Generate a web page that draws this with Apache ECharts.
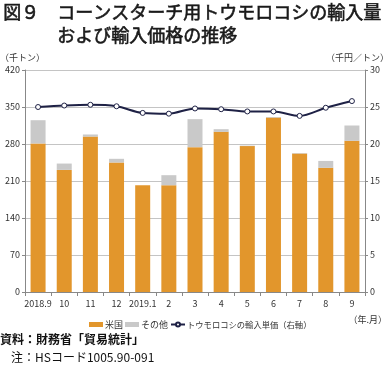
<!DOCTYPE html>
<html><head><meta charset="utf-8">
<script src="https://cdn.jsdelivr.net/npm/echarts@6/dist/echarts.min.js"></script>
<style>html,body{margin:0;padding:0;background:#fff}#c{width:389px;height:368px}</style>
</head><body><div id="c"></div>
<script>
const categories = ['2018.9','10','11','12','2019.1','2','3','4','5','6','7','8','9'];
const usVolume = [281,231,294,245,202,202,274,303,276,330,262,235,286];
const otherVolume = [44,12,4,7,0,19,53,5,1,1,1,13,29];
const unitPrice = [25.0,25.2,25.3,25.1,24.2,24.1,24.8,24.7,24.4,24.4,23.8,24.9,25.8];
const leftTicks = [0,70,140,210,280,350,420];
const rightTicks = [0,5,10,15,20,25,30];
const F = '"Noto Sans CJK JP", "Noto Sans", sans-serif';
const T = {fill:'#1a1a1a',stroke:'#1a1a1a',lineWidth:0.6};
const chart = echarts.init(document.getElementById('c'));
chart.setOption({
  animation:false,
  textStyle:{fontFamily:F},
  graphic:[
    {type:'text',left:3,top:3,style:Object.assign({text:'図９',font:'18px '+F},T)},
    {type:'text',left:57,top:3,style:Object.assign({text:'コーンスターチ用トウモロコシの輸入量',font:'18px '+F},T)},
    {type:'text',left:57,top:26,style:Object.assign({text:'および輸入価格の推移',font:'18px '+F},T)},
    {type:'text',left:0,top:53,style:{text:'（千トン）',font:'9px '+F,fill:'#333'}},
    {type:'text',right:0,top:53,style:{text:'（千円／トン）',font:'9px '+F,fill:'#333'}},
    {type:'text',right:2,top:315,style:{text:'（年.月）',font:'9px '+F,fill:'#333'}},
    {type:'text',left:0,top:333,style:{text:'資料：財務省「貿易統計」',font:'bold 12px '+F,fill:'#111'}},
    {type:'text',left:11,top:351,style:{text:'注：HSコード1005.90-091',font:'12px '+F,fill:'#111'}}
  ],
  legend:{
    top:315,left:84,itemWidth:14,itemHeight:5,itemGap:2,
    textStyle:{fontSize:9,color:'#333',fontFamily:F,padding:[0,0,0,-3]},
    data:[{name:'米国',icon:'rect'},{name:'その他',icon:'rect'},
          {name:'トウモロコシの輸入単価（右軸）',textStyle:{fontSize:8.3}}]
  },
  grid:{left:25,right:24,top:70,bottom:76},
  xAxis:{
    type:'category',data:categories,
    axisLine:{lineStyle:{color:'#888'}},
    axisTick:{show:true,alignWithLabel:false,length:4,lineStyle:{color:'#888'}},
    axisLabel:{fontSize:9,color:'#333',margin:7,interval:0}
  },
  yAxis:[
    {type:'value',min:0,max:420,interval:70,
     axisLine:{show:true,lineStyle:{color:'#888'}},
     axisTick:{show:true,length:3,lineStyle:{color:'#888'}},
     axisLabel:{fontSize:9,color:'#333',margin:5},
     splitLine:{lineStyle:{color:'#c4c4c4',width:1}}},
    {type:'value',min:0,max:30,interval:5,position:'right',
     axisLine:{show:true,lineStyle:{color:'#888'}},
     axisTick:{show:true,length:3,lineStyle:{color:'#888'}},
     axisLabel:{fontSize:9,color:'#333',margin:5},
     splitLine:{show:false}}
  ],
  series:[
    {name:'米国',type:'bar',stack:'v',data:usVolume,barWidth:15,itemStyle:{color:'#E2962C'}},
    {name:'その他',type:'bar',stack:'v',data:otherVolume,barWidth:15,itemStyle:{color:'#C9C9C9'}},
    {name:'トウモロコシの輸入単価（右軸）',type:'line',yAxisIndex:1,data:unitPrice,smooth:0.3,
     symbol:'circle',symbolSize:5,lineStyle:{color:'#1E2145',width:2},
     itemStyle:{color:'#fff',borderColor:'#1E2145',borderWidth:1}}
  ]
});
</script></body></html>
